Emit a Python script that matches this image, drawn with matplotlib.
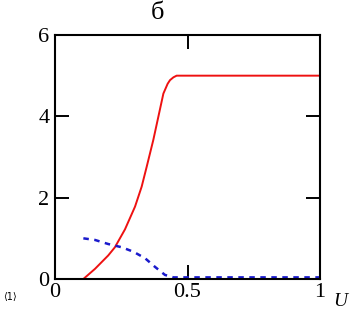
import matplotlib
matplotlib.use("Agg")
import matplotlib.pyplot as plt

# red solid curve
u_red = [0.107, 0.151, 0.201, 0.226, 0.264, 0.302, 0.327, 0.346, 0.371, 0.390,
         0.409, 0.425, 0.434, 0.447, 0.459, 1.0]
y_red = [0.0, 0.25, 0.58, 0.78, 1.22, 1.78, 2.27, 2.76, 3.42, 3.99,
         4.56, 4.80, 4.89, 4.96, 5.0, 5.0]

# blue dashed curve
u_blue = [0.107, 0.151, 0.201, 0.252, 0.296, 0.34, 0.377, 0.415, 0.447, 1.0]
y_blue = [1.0, 0.96, 0.86, 0.78, 0.67, 0.51, 0.30, 0.10, 0.04, 0.04]

x_ticks = [0, 0.5, 1]
x_labels = ["0", "0.5", "1"]
y_ticks = [0, 2, 4, 6]
y_labels = ["0", "2", "4", "6"]

serif = ['Liberation Serif', 'DejaVu Serif']
plt.rcParams['font.family'] = serif

W, H = 352, 312
fig = plt.figure(figsize=(W / 100, H / 100), dpi=100)
ax = fig.add_axes([55 / W, 1 - 279 / H, (320 - 55) / W, (279 - 35) / H])

ax.plot(u_red, y_red, color='#ee1111', lw=1.4)
ax.plot(u_blue, y_blue, color='#1a1acc', lw=1.8, linestyle=(0, (2.2, 2.2)))

ax.set_xlim(0, 1)
ax.set_ylim(0, 6)
ax.set_xticks(x_ticks)
ax.set_xticklabels(x_labels, fontsize=16)
ax.set_yticks(y_ticks)
ax.set_yticklabels(y_labels, fontsize=16)
ax.tick_params(direction='in', length=10, width=1.4, top=True, right=True, pad=3)
ax.tick_params(axis='y', pad=4)
for s in ax.spines.values():
    s.set_linewidth(1.5)

fig.text(158 / W, 1 - 13 / H, "б", fontsize=19, ha='center', va='center')
fig.text(340 / W, 1 - 302 / H, "U", fontsize=14, style='italic', ha='center', va='center')
fig.text(10 / W, 1 - 297 / H, "⟨1⟩", fontsize=7, ha='center', va='center',
         family=['DejaVu Sans'])

fig.savefig("out.png", dpi=100)
